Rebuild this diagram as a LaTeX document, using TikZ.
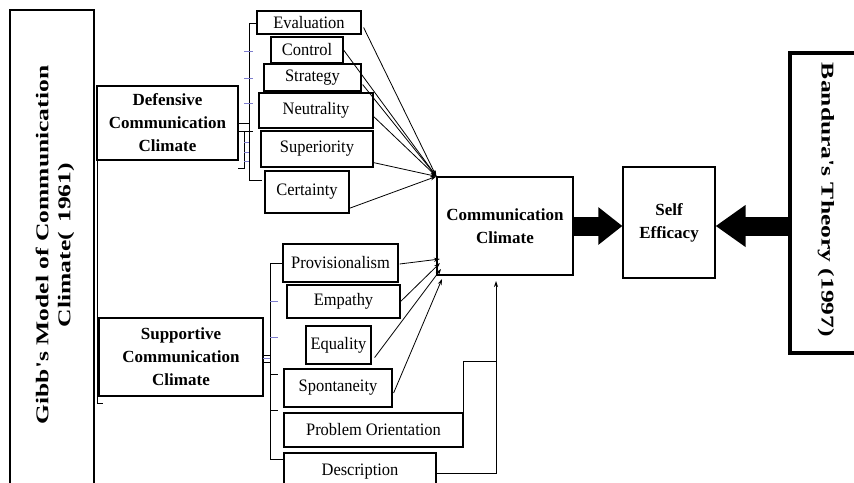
\documentclass[tikz,border=0pt]{standalone}
\usepackage{fontspec}
\setmainfont{Liberation Serif}
\newfontfamily\stretchserif[FakeStretch=1.42]{Liberation Serif}
\newfontfamily\kidserif[FakeStretch=0.94]{Liberation Serif}
\usetikzlibrary{arrows.meta,calc}
\begin{document}
\begin{tikzpicture}[x=1pt,y=-1pt,
  box/.style={draw, line width=1.2pt, inner sep=0pt, align=center},
  kid/.style={box, font=\fontsize{17.5}{19}\kidserif},
  head/.style={box, font=\fontsize{17}{23}\selectfont\bfseries},
  thinline/.style={line width=0.8pt},
  sm/.style={line width=0.8pt, -{Stealth[length=6pt,width=4pt]}},
  blu/.style={draw=blue!45!gray!70, line width=0.9pt},
  heavy/.style={line width=19pt}
]
\useasboundingbox (0,0) rectangle (854,482);
% left and right frames
\node[box, minimum width=84, minimum height=490] (gibb) at (52,255) {};
\node[rotate=90, align=center, inner sep=0pt,
      font=\fontsize{18}{22}\stretchserif\bfseries] (gibbt) at (55,245)
      {Gibb's Model of Communication\\Climate(\, 1961)};
\node[draw, line width=3.5pt, inner sep=0pt, minimum width=74, minimum height=300] (band) at (827,203) {};
\node[rotate=-90, inner sep=0pt,
      font=\fontsize{18}{22}\stretchserif\bfseries] (bandt) at (826,200)
      {Bandura's Theory (1997)};
% category boxes
\node[head, minimum width=141, minimum height=74] (def) at (167.5,123) {Defensive\\Communication\\Climate};
\node[head, minimum width=164, minimum height=78] (sup) at (181,357) {Supportive\\Communication\\Climate};
\node[head, minimum width=136, minimum height=98] (cc) at (505,226) {Communication\\Climate};
\node[head, minimum width=92, minimum height=111] (se) at (669,222.5) {Self\\Efficacy};
% defensive children
\node[kid, minimum width=104, minimum height=23] (ev) at (309,22.5) {Evaluation};
\node[kid, minimum width=72, minimum height=26] (ctl) at (307,50) {Control};
\node[kid, minimum width=97, minimum height=27] (st) at (312.5,77.5) {Strategy};
\node[kid, minimum width=114, minimum height=35] (neu) at (316,110.5) {Neutrality};
\node[kid, minimum width=112, minimum height=36] (supe) at (317,149) {Superiority};
\node[kid, minimum width=84, minimum height=42] (cer) at (307,192) {Certainty};
% supportive children
\node[kid, minimum width=115, minimum height=38] (prov) at (340.5,263) {Provisionalism};
\node[kid, minimum width=113, minimum height=33] (emp) at (343.5,301.5) {Empathy};
\node[kid, minimum width=65, minimum height=38] (eq) at (338.5,345) {Equality};
\node[kid, minimum width=108, minimum height=38] (spo) at (338,388) {Spontaneity};
\node[kid, minimum width=179, minimum height=34] (po) at (373.5,430) {Problem Orientation};
\node[kid, minimum width=152, minimum height=36, text depth=3pt] (desc) at (360,471) {Description};
% brackets
\draw[thinline] (94,123) -- (94,297);
\draw[thinline] (97,123) -- (97,403) -- (103,403);
\draw[thinline] (256,23) -- (249,23) -- (249,180) -- (262,180);
\draw[blu] (244,51) -- (253,51);
\draw[blu] (244,78) -- (253,78);
\draw[blu] (244,103) -- (253,103);
\draw[thinline] (def.east) -- (249,123);
\draw[thinline] (238,131) -- (253,131);
\draw[thinline] (244,131) -- (244,168) -- (238,168);
\draw[blu] (244,142) -- (249,142);
\draw[blu] (244,152) -- (249,152);
\draw[blu] (244,161) -- (249,161);
\draw[thinline] (283,263) -- (270,263) -- (270,459) -- (283,459);
\draw[blu] (270,301) -- (278,301);
\draw[blu] (270,337) -- (278,337);
\draw[thinline] (270,374) -- (278,374);
\draw[thinline] (270,410) -- (278,410);
\draw[thinline] (263,355) -- (270,355);
\draw[blu] (263,358.5) -- (270,358.5);
\draw[thinline] (263,362) -- (270,362);
% defensive arrows
\draw[sm] ($(ev.east)+(2,5)$) -- (cc.north west);
\draw[sm] (ctl.east) -- (cc.north west);
\draw[sm] ($(st.east)+(1,7)$) -- (cc.north west);
\draw[sm] ($(neu.east)+(0,6)$) -- (cc.north west);
\draw[sm] ($(supe.south east)+(0,-5)$) -- (cc.north west);
\draw[sm] ($(cer.south east)+(-1,-5)$) -- (cc.north west);
% supportive arrows
\coordinate (p1) at (440,259);
\coordinate (p2) at (440,263);
\coordinate (p3) at (441,269);
\coordinate (p4) at (442,279);
\coordinate (q) at (496,281);
\coordinate (j) at (496,361);
\draw[sm] ($(prov.east)+(1,1)$) -- (p1);
\draw[sm] (emp.east) -- (p2);
\draw[sm] ($(eq.south east)+(3,-7)$) -- (p3);
\draw[sm] ($(spo.east)+(1,5)$) -- (p4);
\draw[thinline] ($(po.east)+(0,3)$) |- (j);
\draw[sm] ($(desc.east)+(0,2)$) -| (q);
% heavy arrows
\draw[heavy, -{Triangle[length=24pt,width=36pt]}] (cc.east) -- (cc.east -| se.west);
\draw[heavy, -{Triangle[length=30pt,width=40pt]}] (band.west |- cc.east) -- (se.east |- cc.east);
\end{tikzpicture}
\end{document}
